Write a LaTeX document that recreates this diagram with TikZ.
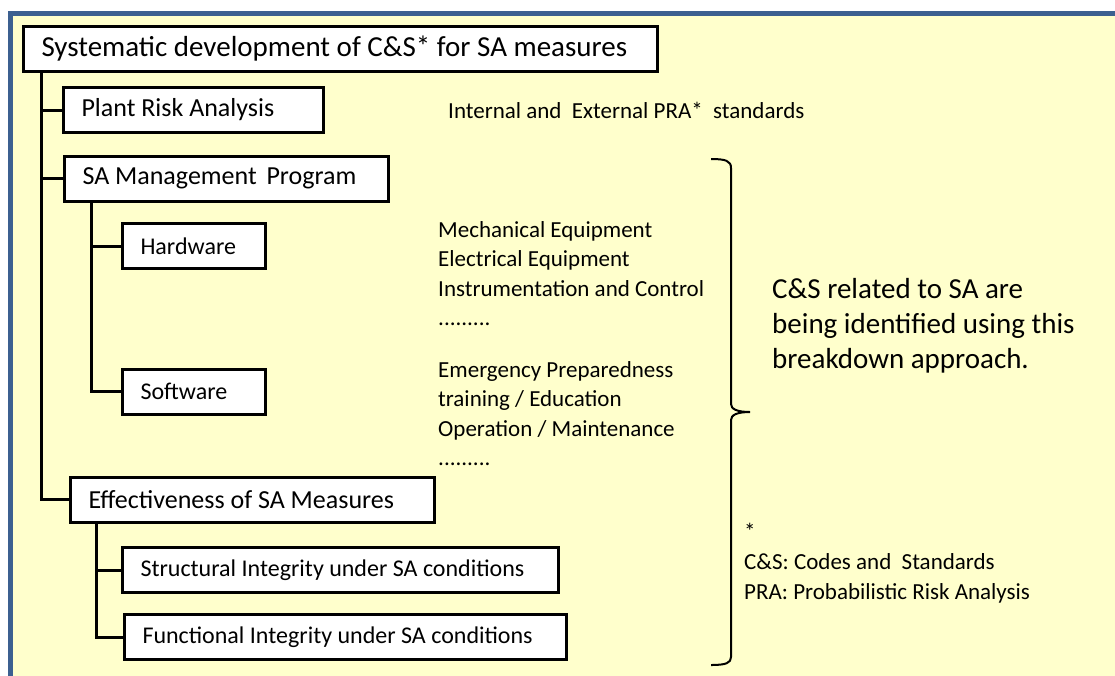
\documentclass[tikz,border=0pt]{standalone}
\usepackage{fontspec}
\setmainfont{Carlito}
\definecolor{paper}{HTML}{FFFFCC}
\definecolor{frameblue}{HTML}{3C6090}

\begin{document}
\begin{tikzpicture}[
  x=1pt, y=-1pt,
  box/.style={draw, line width=3pt, fill=white, anchor=west, align=left,
              minimum height=45pt, inner xsep=18pt, inner ysep=0pt,
              execute at begin node={\spaceskip=\fontdimen2\font\relax}},
  rootbox/.style={box, font=\fontsize{29}{35}\selectfont},
  lvlone/.style={box, font=\fontsize{26}{31}\selectfont},
  lvltwo/.style={box, font=\fontsize{24}{29}\selectfont},
  note/.style={anchor=base west, align=left, inner sep=0pt,
               font=\fontsize{23}{29.5}\selectfont},
  tree/.style={line width=3pt}
]
\useasboundingbox (0,0) rectangle (1115,675);
\clip (0,0) rectangle (1115,675);
\fill[white] (0,0) rectangle (1115,675);
\draw[frameblue, line width=5pt, fill=paper] (10.5,13.5) rectangle (1140,700);

% tree of boxes
\node[rootbox, text width=598pt] (sys) at (22,48.5) {Systematic development of C\&S* for SA measures};
\node[lvlone, text width=224pt] (plant) at (62,110) {Plant Risk Analysis};
\node[lvlone, text width=288pt] (samgmt) at (63,178.5) {SA Management\hspace{.15em} Program};
\node[lvltwo, text width=107pt] (hw) at (121,246) {Hardware};
\node[lvltwo, text width=107pt] (sw) at (121,391.5) {Software};
\node[lvlone, text width=328pt] (eff) at (69,499.5) {Effectiveness of SA Measures};
\node[lvltwo, text width=400pt] (struct) at (121,570) {Structural Integrity under SA conditions};
\node[lvltwo, text width=406pt] (func) at (123,637) {Functional Integrity under SA conditions};

\coordinate (trunk) at ([xshift=19pt]sys.south west);
\draw[tree] (trunk) |- (eff.west);
\draw[tree] (trunk |- plant.west) -- (plant.west);
\draw[tree] (trunk |- samgmt.west) -- (samgmt.west);

\coordinate (satrunk) at ([xshift=28pt]samgmt.south west);
\draw[tree] (satrunk) |- (sw.west);
\draw[tree] (satrunk |- hw.west) -- (hw.west);

\coordinate (efftrunk) at ([xshift=27pt]eff.south west);
\draw[tree] (efftrunk) |- (func.west);
\draw[tree] (efftrunk |- struct.west) -- (struct.west);

% notes on the right (anchored at the baseline of their last line)
\node[note] (prastd) at (448,118) {Internal and\ \ External PRA*\ \ standards};
\node[note] (hwlist) at (438,325.5) {Mechanical Equipment\\Electrical Equipment\\Instrumentation and Control\\.........};
\node[note] (swlist) at (438,465.5) {Emergency Preparedness\\training / Education\\Operation / Maintenance\\.........};

\draw[line width=2pt] (711,159) .. controls (726,159) and (731,161) .. (731,168)
  -- (731,404) .. controls (731,409) and (737,412) .. (750,412)
  .. controls (737,412) and (731,415) .. (731,420)
  -- (731,657) .. controls (731,663) and (726,665) .. (711,665);

\node[note, font=\fontsize{29}{35}\selectfont] (remark) at (772,368)
  {C\&S related to SA are\\being identified using this\\breakdown approach.};
\node[note, font=\fontsize{23}{30}\selectfont] (foot) at (744,599)
  {*\\C\&S: Codes and\ \ Standards\\PRA: Probabilistic Risk Analysis};
\end{tikzpicture}
\end{document}
